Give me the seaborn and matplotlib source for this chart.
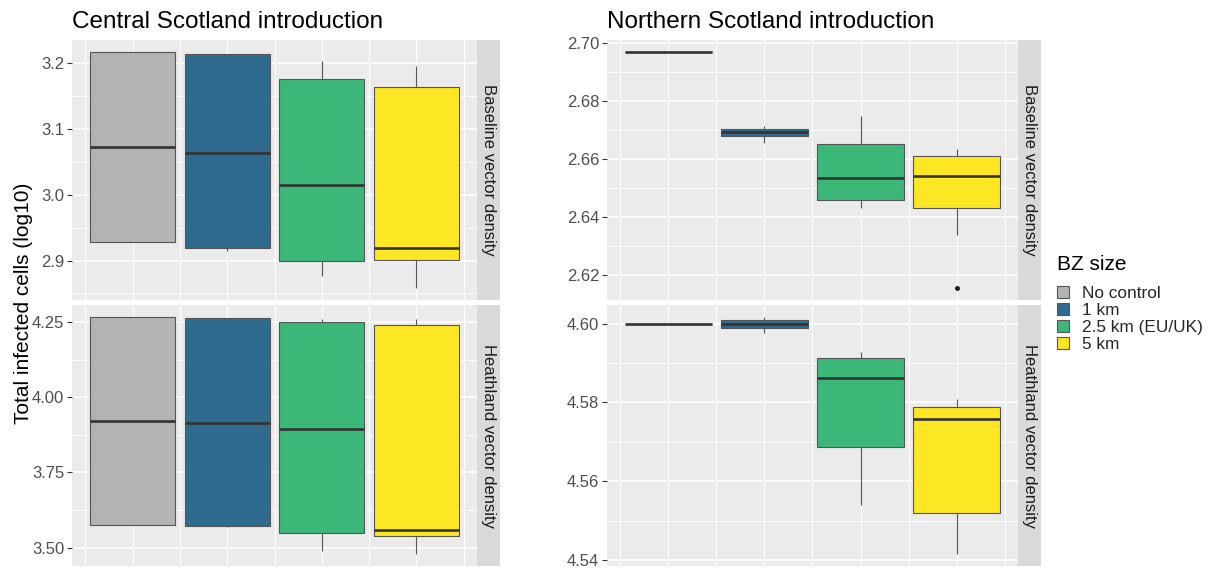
import numpy as np
import pandas as pd
import matplotlib
matplotlib.use("Agg")
import matplotlib.pyplot as plt
import seaborn as sns
from matplotlib.patches import Patch

sns.set_style("white")
plt.rcParams["font.family"] = ["Liberation Sans", "DejaVu Sans"]

# Buffer-zone sizes and their fills
categories = ["No control", "1 km", "2.5 km (EU/UK)", "5 km"]
palette = ["#B3B3B3", "#2F6B8E", "#3BB878", "#FDE725"]

row_labels = ["Baseline vector density", "Heathland vector density"]
col_titles = ["Central Scotland introduction", "Northern Scotland introduction"]

# Total infected cells (log10) per simulation replicate, one list per BZ size
central_baseline = [
    [2.9278, 2.9278, 3.0727, 3.2176, 3.2176],
    [2.9140, 2.9190, 3.0636, 3.2137, 3.2150],
    [2.8770, 2.8995, 3.0152, 3.1766, 3.2040],
    [2.8580, 2.9005, 2.9187, 3.1645, 3.1960],
]
central_heathland = [
    [3.5746, 3.5746, 3.9210, 4.2666, 4.2666],
    [3.5680, 3.5722, 3.9156, 4.2620, 4.2640],
    [3.4900, 3.5480, 3.8948, 4.2510, 4.2600],
    [3.4790, 3.5400, 3.5600, 4.2410, 4.2580],
]
northern_baseline = [
    [2.6971, 2.6971, 2.6971, 2.6971, 2.6971],
    [2.6657, 2.6680, 2.6693, 2.6705, 2.6716],
    [2.6431, 2.6459, 2.6535, 2.6654, 2.6749],
    [2.6155, 2.6338, 2.6432, 2.6500, 2.6543, 2.6585, 2.6612, 2.6625, 2.6636],
]
northern_heathland = [
    [4.6000, 4.6000, 4.6000, 4.6000, 4.6000],
    [4.5976, 4.5988, 4.6000, 4.6010, 4.6017],
    [4.5540, 4.5687, 4.5861, 4.5913, 4.5927],
    [4.5415, 4.5519, 4.5758, 4.5789, 4.5808],
]

# Axis breaks for each facet
central_baseline_ticks = [2.9, 3.0, 3.1, 3.2]
central_heathland_ticks = [3.50, 3.75, 4.00, 4.25]
northern_baseline_ticks = [2.62, 2.64, 2.66, 2.68, 2.70]
northern_heathland_ticks = [4.54, 4.56, 4.58, 4.60]

W, H = 1210, 570
fig = plt.figure(figsize=(W / 100, H / 100), dpi=100)

PANEL_BG = "#EBEBEB"
STRIP_BG = "#D9D9D9"
EDGE = "#555555"


def px_axes(x0, y0, x1, y1):
    return fig.add_axes([x0 / W, 1 - y1 / H, (x1 - x0) / W, (y1 - y0) / H])


def draw_panel(ax, values, ticks, fmt):
    df = pd.DataFrame({
        "bz": [c for c, v in zip(categories, values) for _ in v],
        "cells": [x for v in values for x in v],
    })
    flat = df["cells"].to_numpy()
    lo, hi = flat.min(), flat.max()
    pad = 0.05 * (hi - lo)
    ax.set_facecolor(PANEL_BG)
    ax.set_axisbelow(True)

    # grid: major at breaks, minor halfway between
    step = ticks[1] - ticks[0]
    minor = [t - step / 2 for t in ticks] + [ticks[-1] + step / 2]
    for t in minor:
        if lo - pad < t < hi + pad:
            ax.axhline(t, color="white", lw=0.6, zorder=0)
    for t in ticks:
        ax.axhline(t, color="white", lw=1.2, zorder=0)
    for i in range(len(categories)):
        ax.axvline(i, color="white", lw=0.8, zorder=0)
        ax.axvline(i - 0.5, color="white", lw=0.8, zorder=0)
    ax.axvline(len(categories) - 0.5, color="white", lw=0.8, zorder=0)

    sns.boxplot(
        data=df, x="bz", y="cells", hue="bz", order=categories,
        hue_order=categories, palette=palette, dodge=False, width=0.9,
        linewidth=0.8, linecolor=EDGE, showcaps=False, legend=False,
        medianprops=dict(color="#333333", linewidth=1.9),
        flierprops=dict(marker="o", markersize=2.5, markerfacecolor="#1A1A1A",
                        markeredgecolor="#1A1A1A"),
        saturation=1, ax=ax,
    )
    ax.set_xlim(-0.64, len(categories) - 0.36)
    ax.set_ylim(lo - pad, hi + pad)
    ax.set_yticks(ticks)
    ax.set_yticklabels([fmt.format(t) for t in ticks])
    ax.set_xticks([])
    ax.set_xlabel("")
    ax.set_ylabel("")
    for s in ax.spines.values():
        s.set_visible(False)
    ax.tick_params(axis="y", length=3.5, width=0.8, color="#333333",
                   labelcolor="#4D4D4D", labelsize=12, pad=2, left=True)
    ax.grid(False)


def draw_strip(x0, y0, x1, y1, text):
    sax = px_axes(x0, y0, x1, y1)
    sax.set_facecolor(STRIP_BG)
    sax.set_xticks([])
    sax.set_yticks([])
    for s in sax.spines.values():
        s.set_visible(False)
    sax.text(0.5, 0.5, text, rotation=270, ha="center", va="center",
             fontsize=12, color="#1A1A1A", transform=sax.transAxes)


panels = [
    [central_baseline, central_heathland],
    [northern_baseline, northern_heathland],
]
panel_ticks = [
    [central_baseline_ticks, central_heathland_ticks],
    [northern_baseline_ticks, northern_heathland_ticks],
]
formats = [["{:.1f}", "{:.2f}"], ["{:.2f}", "{:.2f}"]]

col_x = [(72, 477, 500), (607, 1018, 1041)]
row_y = [(40, 300), (305, 566)]

for c in range(2):
    x0, x1, xs = col_x[c]
    for r in range(2):
        y0, y1 = row_y[r]
        ax = px_axes(x0, y0, x1, y1)
        draw_panel(ax, panels[c][r], panel_ticks[c][r], formats[c][r])
        draw_strip(x1, y0, xs, y1, row_labels[r])
    fig.text(x0 / W, 1 - 22 / H, col_titles[c], fontsize=17.5,
             color="black", ha="left", va="center")

fig.text(24 / W, 1 - 303 / H, "Total infected cells (log10)", rotation=90,
         fontsize=15, color="black", ha="center", va="center")

# Legend: title set as its own text so its gap to the keys can be set
fig.text(1057 / W, 1 - 265 / H, "BZ size", fontsize=15, color="black",
         ha="left", va="center")
handles = [Patch(facecolor=col, edgecolor=EDGE, linewidth=0.8) for col in palette]
fig.legend(handles, categories, loc="upper left",
           bbox_to_anchor=(1057 / W, 1 - 286 / H), frameon=False,
           fontsize=12.4, handlelength=0.72, handleheight=0.7,
           handletextpad=0.75, labelspacing=0.12, borderaxespad=0,
           borderpad=0)

fig.savefig("out.png", dpi=100)
